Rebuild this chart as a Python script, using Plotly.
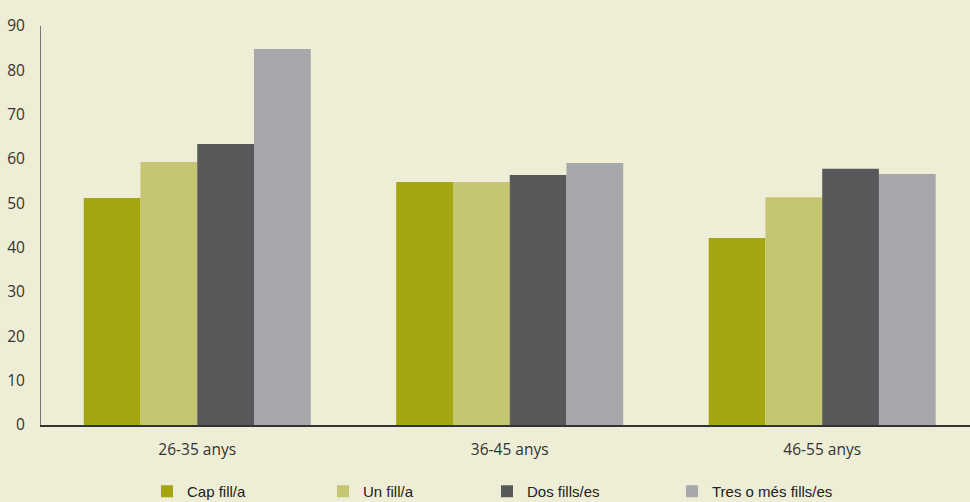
import plotly.graph_objects as go

categories = ["26-35 anys", "36-45 anys", "46-55 anys"]
series_names = ["Cap fill/a", "Un fill/a", "Dos fills/es", "Tres o més fills/es"]
cap_fill = [51.2, 54.8, 42.2]
un_fill = [59.3, 54.8, 51.4]
dos_fills = [63.4, 56.4, 57.8]
tres_fills = [84.8, 59.1, 56.6]
y_ticks = [0, 10, 20, 30, 40, 50, 60, 70, 80, 90]

colors = ["#A3A60F", "#C6C672", "#58595B", "#A7A8AB"]
values = [cap_fill, un_fill, dos_fills, tres_fills]
legend_ids = ["legend", "legend2", "legend3", "legend4"]

W, H = 970, 502
ML, MR, MT, MB = 41, 0, 26, 77
plot_w = W - ML - MR
plot_h = H - MT - MB

def px_to_paper_x(px):
    return (px - ML) / plot_w

def px_to_paper_y(py):
    return (H - MB - py) / plot_h

fig = go.Figure()
for name, vals, col, lg in zip(series_names, values, colors, legend_ids):
    fig.add_trace(go.Bar(x=categories, y=vals, name=name, marker_color=col,
                         marker_line_width=0, legend=lg))

legend_sym_left = [165, 341, 505, 690]
legend_font = dict(family="Liberation Sans, Arial, sans-serif", size=15, color="#222222")
leg_layout = {}
for lg, sx in zip(legend_ids, legend_sym_left):
    leg_layout[lg] = dict(x=px_to_paper_x(sx - 18), xanchor="left",
                          y=px_to_paper_y(491.5), yanchor="middle",
                          orientation="h", bgcolor="rgba(0,0,0,0)",
                          borderwidth=0, font=legend_font)

fig.update_layout(
    width=W, height=H,
    margin=dict(l=ML, r=MR, t=MT, b=MB, pad=0, autoexpand=False),
    paper_bgcolor="#EEEED6", plot_bgcolor="#EEEED6",
    barmode="group", bargap=0.2736, bargroupgap=0,
    font=dict(family="Open Sans, sans-serif", size=15, color="#333333"),
    showlegend=True,
    **leg_layout,
)
fig.update_xaxes(range=[-0.5, 2.473], showline=True, linecolor="#333333", linewidth=1.5,
                 ticks="", showgrid=False, zeroline=False, ticklabelstandoff=10,
                 automargin=False,
                 tickfont=dict(family="Open Sans, sans-serif", size=15.5, color="#333333"))
fig.update_yaxes(range=[0, 90], tickvals=y_ticks, showline=True, linecolor="#777777",
                 linewidth=1, ticks="", showgrid=False, zeroline=False,
                 ticklabelstandoff=12, automargin=False,
                 tickfont=dict(family="Open Sans, sans-serif", size=15.5, color="#333333"))

fig.write_html("out.html", config={"displayModeBar": False},
               post_script="document.body.style.margin='0';document.body.style.overflow='hidden';")
